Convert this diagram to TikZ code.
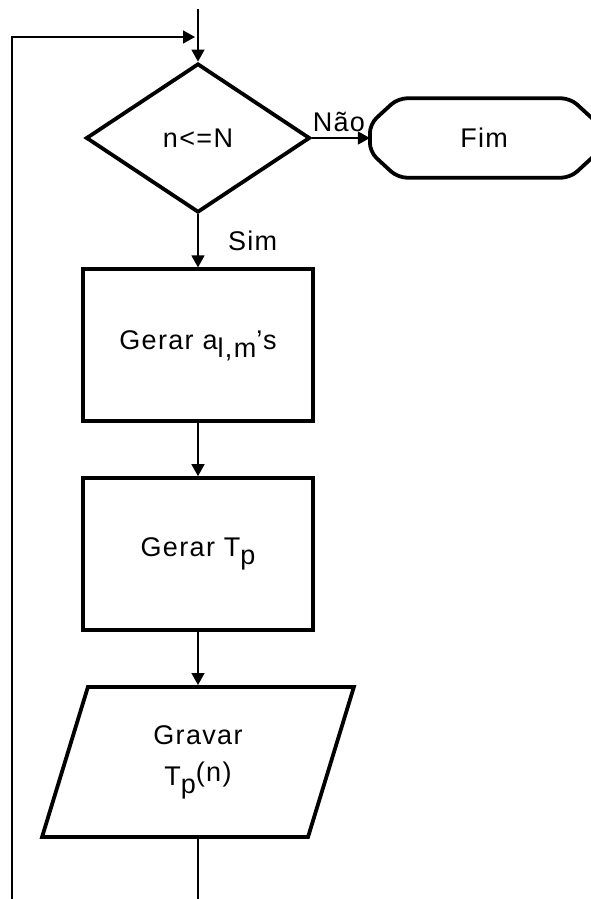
\documentclass[tikz,border=0pt]{standalone}
\usepackage{fontspec}
\setmainfont{Liberation Sans}[LetterSpace=5]
\usetikzlibrary{positioning, shapes.geometric, arrows.meta}

% lowered / raised indices at full text size
\newcommand{\lowidx}[1]{\raisebox{-8pt}{#1}}
\newcommand{\highidx}[1]{\raisebox{4pt}{#1}}

\begin{document}
\begin{tikzpicture}[
                        x=1pt, y=1pt,
                        node distance=53pt,
                        font=\fontsize{27}{31}\selectfont,
                        procnode/.style={rectangle, draw, line width=3.8pt, minimum width=230pt, minimum height=152pt},
                        decnode/.style={diamond, draw, line width=3.8pt, minimum width=224pt, minimum height=149pt, inner sep=0pt},
                        endnode/.style={rectangle, minimum width=228pt, minimum height=79pt},
                        ionode/.style={trapezium, trapezium left angle=76, trapezium right angle=104, trapezium stretches=true, draw, line width=3.8pt, minimum width=312pt, minimum height=150pt, align=center},
                        flow/.style={line width=1.4pt, -{Triangle[length=12pt, width=13pt]}},
                        ]
        \useasboundingbox (0,0) rectangle (590,-899);

        %Nodes
        \node[decnode]        (cond)       at (198,-138)         {n<=N};
        \node[endnode]        (fim)        [right=58pt of cond]  {Fim};
        \node[procnode]       (coef)       [below=of cond]       {Gerar a\lowidx{l,m}'s};
        \node[procnode]       (temp)       [below=of coef]       {Gerar T\lowidx{p}};
        \node[ionode]         (grava)      [below=of temp]       {Gravar\\[10pt] T\lowidx{p}\highidx{(n)}};

        \coordinate (entry)  at ([yshift=53pt]cond.north);
        \coordinate (join)   at ([xshift=-3pt]entry |- 0,-37);
        \coordinate (back)   at (12,-940);

        % terminal outline
        \draw[line width=3.8pt, rounded corners=9pt]
              ([xshift=28pt]fim.north west) -- ([xshift=-28pt]fim.north east)
              -- ([yshift=14pt]fim.east) -- ([yshift=-14pt]fim.east)
              -- ([xshift=-28pt]fim.south east) -- ([xshift=28pt]fim.south west)
              -- ([yshift=-14pt]fim.west) -- ([yshift=14pt]fim.west) -- cycle;

        %Lines
        \draw[flow] (entry) -- (cond.north);
        \draw[flow] (cond.east) to node[above=2pt, xshift=-2pt] {Não} (fim.west);
        \draw[flow] (cond.south) to node[right, xshift=26pt] {Sim} (coef.north);
        \draw[flow] (coef.south) -- (temp.north);
        \draw[flow] (temp.south) -- (grava.north);
        \draw[flow] (grava.south) -- (grava.south |- back) -- (back) |- (join);
    \end{tikzpicture}
\end{document}
